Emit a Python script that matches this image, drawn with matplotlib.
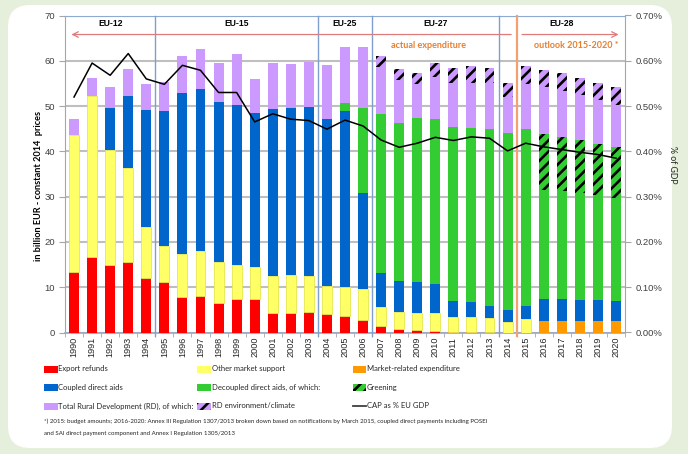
import matplotlib
matplotlib.use('Agg')
import matplotlib.pyplot as plt
import numpy as np
from matplotlib.patches import Rectangle, FancyBboxPatch
from matplotlib.lines import Line2D
from matplotlib.transforms import IdentityTransform

# ---------------- data ----------------
years = [str(y) for y in range(1990, 2021)]
export_refunds = [13.3, 16.6, 14.9, 15.5, 12.1, 11.2, 7.9, 8.1, 6.5, 7.5, 7.4,
                  4.2, 4.2, 4.6, 4.0, 3.6, 2.8, 1.5, 0.85, 0.55, 0.3,
                  0.1, 0.1, 0.05, 0, 0, 0, 0, 0, 0, 0]
other_market = [30.3, 35.6, 25.4, 20.9, 11.3, 7.8, 9.4, 10.0, 9.0, 7.4, 7.0,
                8.3, 8.5, 7.9, 6.3, 6.4, 6.7, 4.1, 3.65, 3.75, 3.9,
                3.3, 3.3, 3.05, 2.4, 2.9, 0, 0, 0, 0, 0]
market_related = [0] * 26 + [2.6, 2.6, 2.6, 2.6, 2.5]
coupled = [0, 0, 9.3, 15.8, 25.7, 29.9, 35.6, 35.7, 35.4, 35.3, 34.1,
           36.8, 36.9, 37.4, 36.8, 39.0, 21.4, 7.6, 6.9, 6.9, 6.4,
           3.5, 3.3, 2.8, 2.6, 3.0, 4.7, 4.7, 4.5, 4.5, 4.4]
decoupled = [0] * 15 + [1.7, 18.7, 35.1, 34.9, 36.2, 36.5, 38.5, 38.4, 39.1,
                        39.0, 39.1, 24.2, 23.9, 23.6, 23.2, 22.7]
greening = [0] * 26 + [12.3, 12.0, 11.9, 11.4, 11.3]
rd_other = [3.5, 4.0, 4.7, 6.0, 5.8, 6.5, 8.2, 8.8, 8.6, 11.3, 7.5,
            10.3, 9.7, 9.9, 12.0, 12.4, 13.5, 10.4, 9.4, 7.4, 9.4,
            9.6, 10.0, 10.0, 7.9, 9.8, 10.5, 10.1, 9.8, 9.6, 9.3]
rd_env = [0] * 17 + [2.3, 2.5, 2.4, 3.0, 3.5, 3.7, 3.3, 3.3, 4.1, 3.6, 3.9,
                     3.8, 3.8, 4.0]
cap_gdp = [0.520, 0.595, 0.568, 0.616, 0.560, 0.548, 0.590, 0.579, 0.530, 0.530,
           0.465, 0.483, 0.471, 0.468, 0.449, 0.469, 0.456, 0.425, 0.409, 0.418,
           0.431, 0.424, 0.432, 0.429, 0.401, 0.418, 0.410, 0.404, 0.398, 0.393,
           0.385]
eras = ["EU-12", "EU-15", "EU-25", "EU-27", "EU-28"]
era_start = [1990, 1995, 2004, 2007, 2014, 2021]

# ---------------- style ----------------
W, H = 688, 454
plt.rcParams['font.family'] = ['Lato', 'DejaVu Sans']
plt.rcParams['hatch.linewidth'] = 1.9
C_RED, C_YEL, C_ORA = '#ff0000', '#ffff66', '#ff9900'
C_BLUE, C_GREEN, C_PURP = '#0066cc', '#33cc33', '#cc99ff'

fig = plt.figure(figsize=(W / 100, H / 100), dpi=100)
fig.patch.set_facecolor('#e6efdc')
panel = FancyBboxPatch((8, 6), 664, 443, boxstyle='round,pad=0,rounding_size=22',
                       transform=IdentityTransform(), facecolor='white',
                       edgecolor='none', zorder=-10)
fig.add_artist(panel)

def fx(px):
    return px / W

def fy(py):
    return 1 - py / H

ax = fig.add_axes([fx(65), fy(332.5), fx(625) - fx(65), fy(15.5) - fy(332.5)])
ax.set_facecolor('none')
x = np.arange(len(years))
bw = 0.55

bottom = np.zeros(len(years))
layers = [
    (export_refunds, C_RED, None, 'none'),
    (other_market, C_YEL, None, '#e6e64d'),
    (market_related, C_ORA, None, 'none'),
    (coupled, C_BLUE, None, 'none'),
    (decoupled, C_GREEN, None, 'none'),
    (greening, C_GREEN, '///', 'black'),
    (rd_other, C_PURP, None, 'none'),
    (rd_env, C_PURP, '///', 'black'),
]
for vals, col, hatch, ec in layers:
    v = np.array(vals, dtype=float)
    lw = 0.6 if (hatch is None and ec != 'none') else 0
    ax.bar(x, v, bw, bottom=bottom, color=col, hatch=hatch, edgecolor=ec,
           linewidth=lw, zorder=3)
    bottom += v

ax.set_xlim(-0.5, len(years) - 0.5)
ax.set_ylim(0, 70)
ax.set_yticks(range(0, 71, 10))
ax.yaxis.grid(True, color='#bfbfbf', linewidth=1.5, zorder=0)
ax.set_axisbelow(True)
ax.set_xticks(x)
ax.set_xticklabels(years, rotation=90, fontsize=6.6, color='#262626',
                   family='Liberation Sans')
ax.set_xticks(np.arange(-0.5, len(years), 1), minor=True)
ax.tick_params(axis='x', which='major', length=0, pad=3)
ax.tick_params(axis='x', which='minor', length=3, color='#a0a8b8')
ax.tick_params(axis='y', labelsize=6.8, labelcolor='#404040', length=4,
               color='#a6a6a6', pad=3)
for lab in ax.get_yticklabels():
    lab.set_family('Liberation Sans')
ax.spines['left'].set_color('#a6a6a6')
ax.spines['bottom'].set_color('#9aa8bf')
ax.spines['bottom'].set_linewidth(1.2)
ax.spines['top'].set_color('#8eaad0')
ax.spines['right'].set_visible(False)
ax.set_ylabel('in billion EUR - constant 2014  prices', fontsize=6.6,
              fontweight='bold')
ax.yaxis.set_label_coords(-0.040, (332.5 - 186) / 317)

# era dividers and labels
for i, (name, s, e) in enumerate(zip(eras, era_start[:-1], era_start[1:])):
    i0, i1 = s - 1990, e - 1990
    ax.text((i0 + i1 - 1) / 2, 68.2, name, ha='center', va='center',
            fontsize=6.2, fontweight='bold', family='Liberation Sans', zorder=6)
    if i > 0:
        ax.plot([i0 - 0.5, i0 - 0.5], [-0.8, 70], color='#7f9fcf', lw=1.0,
                zorder=5, clip_on=False)
ax.plot([24.5, 24.5], [-0.8, 70], color='#f4a070', lw=1.6, zorder=5,
        clip_on=False)

# arrows
ax.annotate('', xy=(-0.3, 65.8), xytext=(24.35, 65.8),
            arrowprops=dict(arrowstyle='->', color='#e07b7b', lw=0.9), zorder=6)
ax.annotate('', xy=(30.3, 65.8), xytext=(24.65, 65.8),
            arrowprops=dict(arrowstyle='->', color='#e07b7b', lw=0.9), zorder=6)
ax.text(19.6, 63.4, 'actual expenditure', ha='center', va='center', fontsize=6.5,
        fontweight='bold', color='#e87d2c', zorder=6)
ax.text(27.8, 63.4, 'outlook 2015-2020 *', ha='center', va='center',
        fontsize=6.5, fontweight='bold', color='#e87d2c', zorder=6)

# line on secondary axis
ax2 = ax.twinx()
ax2.plot(x, cap_gdp, color='black', lw=1.1, zorder=7)
ax2.set_ylim(0, 0.70)
ax2.set_yticks(np.arange(0, 0.71, 0.1))
ax2.set_yticklabels(['%.2f%%' % v for v in np.arange(0, 0.71, 0.1)],
                    family='Liberation Sans')
ax2.tick_params(axis='y', labelsize=6.8, labelcolor='#404040', length=4,
                color='#a6a6a6', pad=4)
ax2.spines['right'].set_color('#a6a6a6')
ax2.spines['top'].set_visible(False)
ax2.spines['left'].set_visible(False)
ax2.spines['bottom'].set_visible(False)
fig.text(fx(673), fy(165), '% of GDP', rotation=270, ha='center', va='center',
         fontsize=6.3, color='#262626')

# legend (manual, 3x3 grid as in the original)
legend_rows = [
    [('Export refunds', C_RED, None), ('Other market support', C_YEL, None),
     ('Market-related expenditure', C_ORA, None)],
    [('Coupled direct aids', C_BLUE, None),
     ('Decoupled direct aids, of which:', C_GREEN, None),
     ('Greening', C_GREEN, '///')],
    [('Total Rural Development (RD), of which:', C_PURP, None),
     ('RD environment/climate', C_PURP, '///'), ('CAP as % EU GDP', None, 'line')],
]
col_x = [44, 197, 352.5]
row_y = [369, 387.5, 406]
for r, row in enumerate(legend_rows):
    for c, (label, col, kind) in enumerate(row):
        x0, yc = col_x[c], row_y[r]
        if kind == 'line':
            fig.add_artist(Line2D([fx(x0), fx(x0 + 13.5)], [fy(yc), fy(yc)],
                                  color='#404040', lw=1.3,
                                  transform=fig.transFigure))
        else:
            fig.add_artist(Rectangle((fx(x0), fy(yc + 3.5)), fx(13.5), 7 / H,
                                     transform=fig.transFigure, facecolor=col,
                                     hatch=kind,
                                     edgecolor='black' if kind else 'none',
                                     linewidth=0))
        fig.text(fx(x0 + 14.5), fy(yc), label, ha='left', va='center',
                 fontsize=5.5, color='#262626')

fig.text(fx(44), fy(421.5),
         '*) 2015: budget amounts; 2016-2020: Annex III Regulation 1307/2013 broken '
         'down based on notifications by March 2015, coupled direct payments including POSEI',
         ha='left', va='center', fontsize=4.4, color='#262626')
fig.text(fx(44), fy(433.5),
         'and SAI direct payment component and Annex I Regulation 1305/2013',
         ha='left', va='center', fontsize=4.4, color='#262626')

fig.savefig('out.png', dpi=100, facecolor=fig.get_facecolor())
